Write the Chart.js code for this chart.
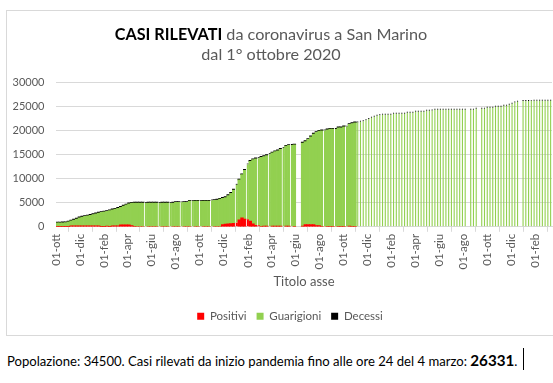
<!DOCTYPE html>
<html><head><meta charset="utf-8">
<script src="https://cdn.jsdelivr.net/npm/chart.js@4"></script>
<style>
html,body{margin:0;padding:0;background:#fff;width:553px;height:383px;overflow:hidden;font-family:Lato,'Open Sans',sans-serif;}
#frame{position:absolute;left:6px;top:10px;width:600px;height:324px;border:1px solid #d9d9d9;}
#cv{position:absolute;left:0;top:0;}
.tl{position:absolute;left:0;width:542px;text-align:center;white-space:nowrap;color:#595959;font-size:16.2px;line-height:20px;}
#t1{top:24px}
#t2{top:44px}
#t1 b{color:#000;font-weight:700;}
#foot{position:absolute;left:7px;top:351px;white-space:nowrap;font-size:13.1px;line-height:18px;color:#000;}
#foot b{font-size:15.2px;font-weight:700;}
#caret{position:absolute;left:523px;top:348px;width:1px;height:22px;background:#000;}
</style></head>
<body>
<div id="frame"></div>
<canvas id="cv" width="553" height="335"></canvas>
<div class="tl" id="t1"><b>CASI RILEVATI</b> da coronavirus a San Marino</div>
<div class="tl" id="t2">dal 1° ottobre 2020</div>
<div id="foot">Popolazione: 34500. Casi rilevati da inizio pandemia fino alle ore 24 del 4 marzo: <b>26331</b>.</div>
<div id="caret"></div>
<script>
// Weekly readings, week 0 = 1 Oct 2020
const positivi = [
30,30,30,30,30,200,200,200,200,200,
200,220,220,220,220,220,50,50,150,50,
220,220,220,400,400,400,400,250,100,0,
0,0,0,0,0,0,0,0,0,0,
0,0,0,0,0,0,0,0,0,0,
0,0,0,0,0,0,0,0,0,0,
450,550,620,650,700,900,1460,1870,1600,1550,
1180,620,330,300,80,130,130,130,130,130,
130,130,130,130,130,100,100,null,null,150,
480,480,480,480,250,250,60,60,60,60,
60,60,60,60,60,60,150,60,60,0,
0,0,0,100,0,0,0,0,0,0,
0,0,0,0,0,0,0,0,0,0,
0,0,0,0,0,0,0,0,0,0,
0,0,0,0,0,0,0,0,0,null,
0,0,0,null,0,0,0,0,0,0,
0,0,0,0,0,0,0,0,null,0,
0,0,0,0,0,0,0,0,0,0];
const guarigioni = [
790,790,800,820,990,1020,1200,1420,1670,1820,
1950,2050,2180,2330,2480,2640,2940,3050,3050,3300,
3310,3450,3630,3650,3900,4150,4370,4650,4820,4920,
4920,4920,4920,4920,4920,4920,4920,4920,4920,4920,
4920,4920,4920,5070,5070,5070,5070,5070,5320,5320,
5320,5320,5320,5320,5320,5320,5470,5470,5540,5720,
5460,5510,5840,6310,6910,7810,8250,8940,10110,11360,
12380,13290,13760,13910,14310,14430,14630,14910,15180,15430,
15630,15930,16230,16580,16730,16860,16860,null,null,17210,
17180,17630,18180,18730,19310,19560,19830,19900,20030,20170,
20170,20200,20450,20450,20650,20700,21060,21350,21490,21610,
21750,21880,22100,22260,22600,22800,23000,23130,23200,23200,
23220,23220,23420,23420,23420,23420,23440,23630,23630,23640,
23840,23840,23850,23850,24040,24040,24110,24250,24250,24250,
24250,24250,24250,24250,24250,24250,24250,24250,24250,null,
24250,24260,24460,null,24470,24470,24670,24670,24680,24880,
24880,24890,25080,25090,25300,25500,25770,25920,null,26050,
26070,26080,26090,26100,26100,26110,26115,26120,26125,26131];
const decessi = [
180,180,180,180,180,180,180,180,180,180,
180,180,180,180,180,180,180,180,180,180,
180,180,180,180,180,180,180,180,180,180,
180,180,180,180,180,180,180,180,180,180,
180,180,180,180,180,180,180,180,180,180,
180,180,180,180,180,180,180,180,180,180,
190,190,190,190,190,190,190,190,190,190,
190,190,190,190,190,190,190,190,190,190,
190,190,190,190,190,190,190,null,null,190,
190,190,190,190,190,190,190,190,190,190,
190,190,190,190,190,190,190,190,190,200,
200,200,200,200,200,200,200,200,200,200,
200,200,200,200,200,200,200,200,200,200,
200,200,200,200,200,200,200,200,200,200,
200,200,200,200,200,200,200,200,200,null,
200,200,200,null,200,200,200,200,200,200,
200,200,200,200,200,200,200,200,null,200,
200,200,200,200,200,200,200,200,200,200];
// weeks with a missing daily report (thin white seam)
const missingDayWeeks = [32,37,41,45,49,52,56,65,69,73,77,82,85,97,101,105];
// from this week on, reports are weekly (thin separate bars)
const weeklyFrom = 109;
const tickLabels = ['01-ott','01-dic','01-feb','01-apr','01-giu','01-ago','01-ott','01-dic','01-feb','01-apr','01-giu','01-ago','01-ott','01-dic','01-feb','01-apr','01-giu','01-ago','01-ott','01-dic','01-feb'];
const tickDays = [0,61,123,182,243,304,365,426,488,547,608,669,730,791,853,912,973,1034,1095,1156,1218];
const weekLabels = guarigioni.map((_, i) => { const d = new Date(Date.UTC(2020, 9, 1 + 7 * i)); return d.toISOString().slice(0, 10); });

Chart.defaults.font.family = 'Lato';
Chart.defaults.color = '#595959';

const dense = a => a.map((v, i) => i < weeklyFrom ? v : null);
const sparse = a => a.map((v, i) => i >= weeklyFrom ? v : null);
const seam = c => (c.dataIndex !== undefined && missingDayWeeks.includes(c.dataIndex)) ? {left: 1, right: 0, top: 0, bottom: 0} : 0;
const series = [
  {label: 'Positivi', data: positivi, color: '#ff0000'},
  {label: 'Guarigioni', data: guarigioni, color: '#92d050'},
  {label: 'Decessi', data: decessi, color: '#000000'}
];
const datasets = [];
series.forEach(s => datasets.push({label: s.label, data: dense(s.data), backgroundColor: s.color, borderColor: '#ffffff', borderWidth: seam, barPercentage: 1, categoryPercentage: 1}));
series.forEach(s => datasets.push({label: s.label, data: sparse(s.data), backgroundColor: s.color, borderWidth: 0, barPercentage: 0.4, categoryPercentage: 1}));

// legend box of the original is centred on a wider frame: shift its left edge
const legendShift = {
  id: 'legendShift',
  beforeDraw(chart) { if (chart.legend) { chart.legend.left = 28; } }
};

new Chart(document.getElementById('cv'), {
  type: 'bar',
  data: {labels: weekLabels, datasets},
  plugins: [legendShift],
  options: {
    responsive: false, animation: false, devicePixelRatio: 1,
    layout: {padding: {left: 0, right: 1, top: 82, bottom: 3}},
    plugins: {
      tooltip: {enabled: false},
      legend: {position: 'bottom', labels: {boxWidth: 7, boxHeight: 7, padding: 10, color: '#595959', font: {size: 11.5}, filter: it => it.datasetIndex < 3}}
    },
    scales: {
      x: {type: 'category', stacked: true, display: false, offset: true},
      xd: {type: 'linear', position: 'bottom', min: 0, max: weekLabels.length * 7, offset: false,
        afterBuildTicks: s => { s.ticks = tickDays.map(v => ({value: v})); },
        afterFit: s => { s.height = 73.7; },
        ticks: {autoSkip: false, minRotation: 90, maxRotation: 90, padding: 2, color: '#595959', font: {size: 11.5}, callback: (v, i) => tickLabels[i]},
        grid: {drawOnChartArea: false, drawTicks: true, tickLength: 5, color: '#d9d9d9'},
        border: {display: true, color: '#d9d9d9'},
        title: {display: true, text: 'Titolo asse', color: '#595959', font: {size: 13}, padding: {top: 4, bottom: 11}}
      },
      y: {stacked: true, min: 0, max: 30000,
        afterFit: s => { s.width = 56; },
        ticks: {stepSize: 5000, padding: 11.5, color: '#595959', font: {size: 11}, callback: v => String(v)},
        grid: {color: '#d9d9d9', drawTicks: false},
        border: {display: false}
      }
    }
  }
});
</script>
</body></html>
